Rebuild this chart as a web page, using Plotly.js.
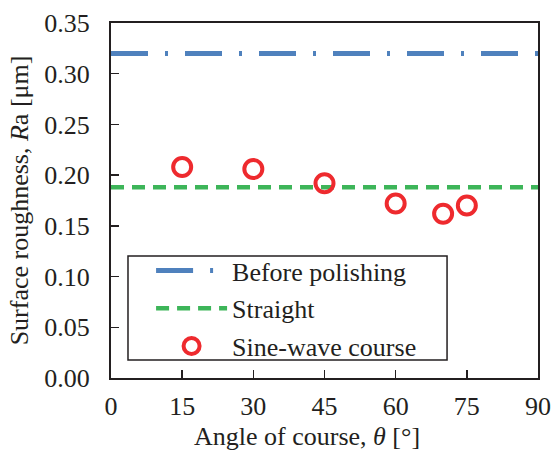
<!DOCTYPE html>
<html>
<head>
<meta charset="utf-8">
<script src="https://cdn.plot.ly/plotly-3.0.1.min.js"></script>
<style>html,body{margin:0;padding:0;background:#fff;}#chart{width:552px;height:454px;}</style>
</head>
<body>
<div id="chart"></div>
<script>
// Data
const lineX = [0, 90];
const beforeY = [0.32, 0.32];
const straightY = [0.188, 0.188];
const sineX = [15, 30, 45, 60, 70, 75];
const sineY = [0.208, 0.206, 0.192, 0.172, 0.162, 0.170];
const xTicks = [0, 15, 30, 45, 60, 75, 90];
const yTicks = [0, 0.05, 0.10, 0.15, 0.20, 0.25, 0.30, 0.35];
const yTickText = ['0.00','0.05','0.10','0.15','0.20','0.25','0.30','0.35'];
const xTitle = 'Angle of course, <i>θ</i> [°]';
const yTitle = 'Surface roughness, <i>R</i>a [μm]';

const FONT = '"Liberation Serif", "Times New Roman", Times, serif';
const INK = '#231f20';

const traces = [
  {x: lineX, y: beforeY, mode: 'lines', name: 'Before polishing', legendgroup: 'a',
   line: {color: '#4f81bd', width: 5, dash: '37px,17px,3px,17px'}},
  {x: lineX, y: straightY, mode: 'lines', name: 'Straight', legendgroup: 'b',
   line: {color: '#3db559', width: 4.5, dash: '13px,8px'}},
  {x: sineX, y: sineY, mode: 'markers', name: 'Sine-wave course', legendgroup: 'c',
   marker: {symbol: 'circle-open', size: 18, color: '#ee2a2e', line: {width: 4, color: '#ee2a2e'}}}
];

const layout = {
  width: 552, height: 454,
  margin: {l: 111, r: 14, t: 23, b: 76},
  paper_bgcolor: '#fff', plot_bgcolor: '#fff',
  font: {family: FONT, size: 26, color: INK},
  showlegend: true,
  legend: {x: 0.04, y: 0.369, xanchor: 'left', yanchor: 'top',
    borderwidth: 0, bgcolor: 'rgba(0,0,0,0)',
    font: {family: FONT, size: 26, color: INK},
    itemwidth: 71, indentation: 23, traceorder: 'grouped', tracegroupgap: 1},
  shapes: [
    {type: 'rect', xref: 'paper', yref: 'paper', x0: 0.0398, x1: 0.787, y0: 0.0507, y1: 0.3437,
     line: {color: INK, width: 1.5}, fillcolor: 'rgba(0,0,0,0)', layer: 'above'}
  ],
  annotations: [
    {text: xTitle, xref: 'paper', yref: 'paper', x: 0.458, y: 0, xanchor: 'center', yanchor: 'top',
     yshift: -43, showarrow: false, borderpad: 0, font: {family: FONT, size: 26, color: INK}}
  ],
  xaxis: {range: [0, 90], tickmode: 'array', tickvals: xTicks,
    ticks: 'inside', ticklen: 8, tickwidth: 1.5, tickcolor: INK,
    showline: true, linecolor: INK, linewidth: 2, mirror: true,
    showgrid: false, zeroline: false, ticklabelstandoff: 4},
  yaxis: {range: [0, 0.35], tickmode: 'array', tickvals: yTicks, ticktext: yTickText,
    ticks: 'inside', ticklen: 8, tickwidth: 1.5, tickcolor: INK,
    showline: true, linecolor: INK, linewidth: 2, mirror: true,
    showgrid: false, zeroline: false, ticklabelstandoff: 14,
    title: {text: yTitle, font: {family: FONT, size: 26, color: INK}, standoff: 8}}
};

Plotly.newPlot('chart', traces, layout, {displayModeBar: false, staticPlot: true});
</script>
</body>
</html>
